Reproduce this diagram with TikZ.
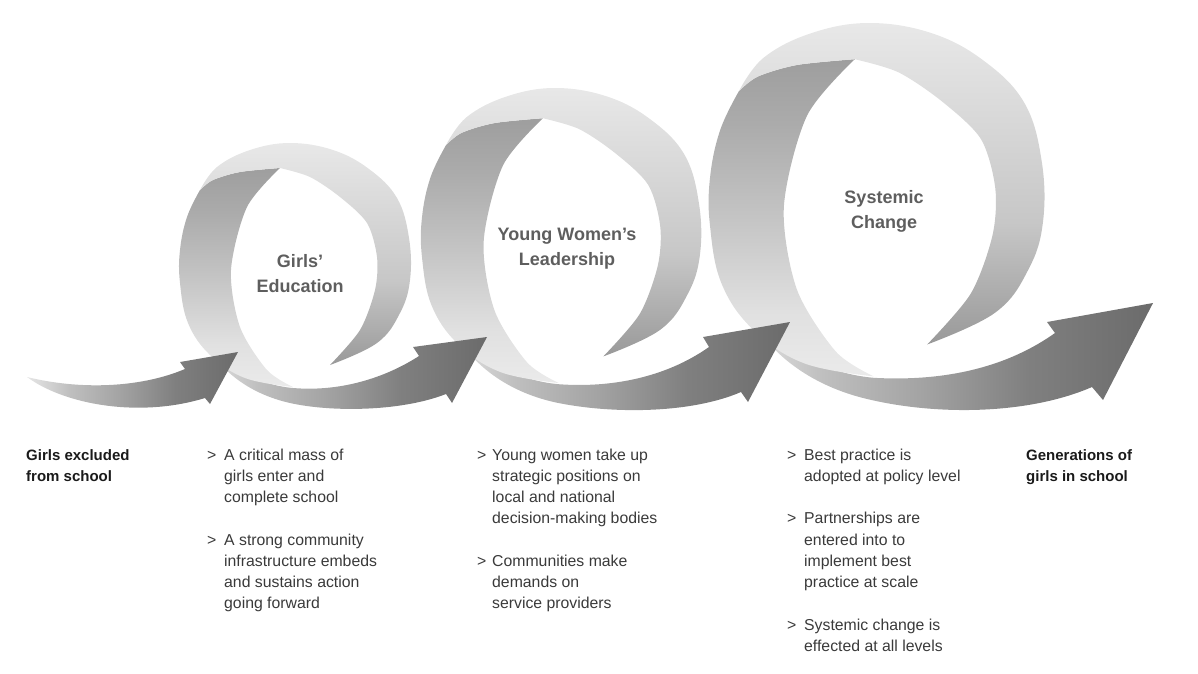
\documentclass[tikz,border=0pt]{standalone}
\usepackage{fontspec}
\setmainfont{Liberation Sans}
\definecolor{titlegray}{HTML}{5E5E5E}
\definecolor{bodygray}{HTML}{3A3A3A}
\definecolor{labelblack}{HTML}{1A1A1A}
\pgfdeclarehorizontalshading{bandshade}{100bp}{color(0bp)=(black!10); color(25bp)=(black!10); color(35bp)=(black!25); color(47bp)=(black!36); color(60bp)=(black!50); color(75bp)=(black!58); color(100bp)=(black!58)}
\pgfdeclareverticalshading{ringdark}{100bp}{color(0bp)=(black!8); color(25bp)=(black!8); color(35bp)=(black!12); color(50bp)=(black!23); color(65bp)=(black!33); color(75bp)=(black!38); color(100bp)=(black!38)}
\pgfdeclareverticalshading{ringlight}{100bp}{color(0bp)=(black!40); color(25bp)=(black!40); color(44bp)=(black!22); color(75bp)=(black!9); color(100bp)=(black!9)}
\newcommand{\gtmark}[1]{\makebox[#1][l]{>}}
\tikzset{
  ringpic/.pic={
    % dark back face (left side), dark at top, light at bottom, tapering into the band
    \shade[shading=ringdark] (20,47)
      -- plot[smooth] coordinates {(20,47) (33,37) (60,29) (100,25)}
      -- plot[smooth] coordinates {(100,25) (67,64) (51,127) (60,184) (87,227) (113,244)}
      -- plot[smooth, tension=0.65] coordinates {(113,244) (65,235) (30,212) (8,180) (0,140) (0,107) (7,74) (20,47)}
      -- cycle;
    % light front face (top and right), tapering to a point
    \shade[shading=ringlight] (20,47)
      -- plot[smooth, tension=0.65] coordinates {(20,47) (37,24) (70,7) (110,0) (153,7) (189,26) (217,55) (229,95) (230,137) (220,170) (197,200) (150,222)}
      -- plot[smooth] coordinates {(150,222) (180,187) (195,147) (197,114) (187,80) (160,54) (130,34) (100,25)}
      -- plot[smooth] coordinates {(100,25) (60,29) (33,37) (20,47)}
      -- cycle;
  }
}
\begin{document}
\begin{tikzpicture}[x=1pt,y=-1pt,
  band/.style={shading=bandshade},
  titletext/.style={font=\fontsize{18}{25}\selectfont\bfseries, text=titlegray, align=center, inner sep=0pt},
  bodytext/.style={font=\fontsize{15.8}{21.25}\selectfont, text=bodygray, anchor=north west, inner sep=0pt},
  labeltext/.style={font=\fontsize{15}{21.25}\selectfont\bfseries, text=labelblack, anchor=north west, inner sep=0pt}]
\useasboundingbox (0,0) rectangle (1198,673);

% band from ring 3 to last arrow
\shade[band] (739,294) .. controls (782.4,351.7) and (825.8,373.4) .. (873.6,377.8)
  .. controls (950,382) and (1010,365) .. (1055,333) -- (1047,322) -- (1153,303) -- (1103,400) -- (1092,387)
  .. controls (1030,414) and (940,416) .. (869.3,399.5)
  .. controls (811.4,386.4) and (760.7,351.7) .. (739,294) -- cycle;
% ring 3
\pic[scale=1.448] at (710,23) {ringpic};
% band from ring 2 to arrow 3
\shade[band] (446,314) .. controls (482.5,362.4) and (518.7,380.6) .. (558.6,384.2)
  .. controls (610,388) and (665,378) .. (709,347) -- (703,337) -- (790,322) -- (748,402) -- (741,392)
  .. controls (690,414) and (610,414) .. (555,402.3)
  .. controls (506.6,391.5) and (464.3,362.4) .. (446,314) -- cycle;
% ring 2
\pic[scale=1.209] at (422,88) {ringpic};
% band from ring 1 to arrow 2
\shade[band] (200,330) .. controls (230,370) and (260,385) .. (293,388)
  .. controls (340,392) and (385,378) .. (419,356) -- (413,347) -- (487,337) -- (452,403) -- (446,394)
  .. controls (400,412) and (330,412) .. (290,403)
  .. controls (250,394) and (215,370) .. (200,330) -- cycle;
% ring 1
\pic at (180,143) {ringpic};
% first arrow
\shade[band] (27,377) .. controls (80,390) and (140,388) .. (185,369) -- (180,362) -- (238,352) -- (210,404) -- (205,398) .. controls (140,418) and (65,405) .. (27,377) -- cycle;

% titles
\node[titletext] (t1) at (300,274) {Girls’\\Education};
\node[titletext] (t2) at (567,249) {Young Women’s\\Leadership};
\node[titletext] (t3) at (884,211) {Systemic\\Change};

% bottom texts
\node[labeltext] (start) at (26,445) {\begin{tabular}{@{}l@{}}Girls excluded\\from school\end{tabular}};
\node[bodytext] (b1) at (207,445) {\begin{tabular}{@{}l@{}}
\gtmark{17pt}A critical mass of\\
\hspace*{17pt}girls enter and\\
\hspace*{17pt}complete school\\
\\
\gtmark{17pt}A strong community\\
\hspace*{17pt}infrastructure embeds\\
\hspace*{17pt}and sustains action\\
\hspace*{17pt}going forward
\end{tabular}};
\node[bodytext] (b2) at (477,445) {\begin{tabular}{@{}l@{}}
\gtmark{15pt}Young women take up\\
\hspace*{15pt}strategic positions on\\
\hspace*{15pt}local and national\\
\hspace*{15pt}decision-making bodies\\
\\
\gtmark{15pt}Communities make\\
\hspace*{15pt}demands on\\
\hspace*{15pt}service providers
\end{tabular}};
\node[bodytext] (b3) at (787,445) {\begin{tabular}{@{}l@{}}
\gtmark{17pt}Best practice is\\
\hspace*{17pt}adopted at policy level\\
\\
\gtmark{17pt}Partnerships are\\
\hspace*{17pt}entered into to\\
\hspace*{17pt}implement best\\
\hspace*{17pt}practice at scale\\
\\
\gtmark{17pt}Systemic change is\\
\hspace*{17pt}effected at all levels
\end{tabular}};
\node[labeltext] (end) at (1026,445) {\begin{tabular}{@{}l@{}}Generations of\\girls in school\end{tabular}};
\end{tikzpicture}
\end{document}
